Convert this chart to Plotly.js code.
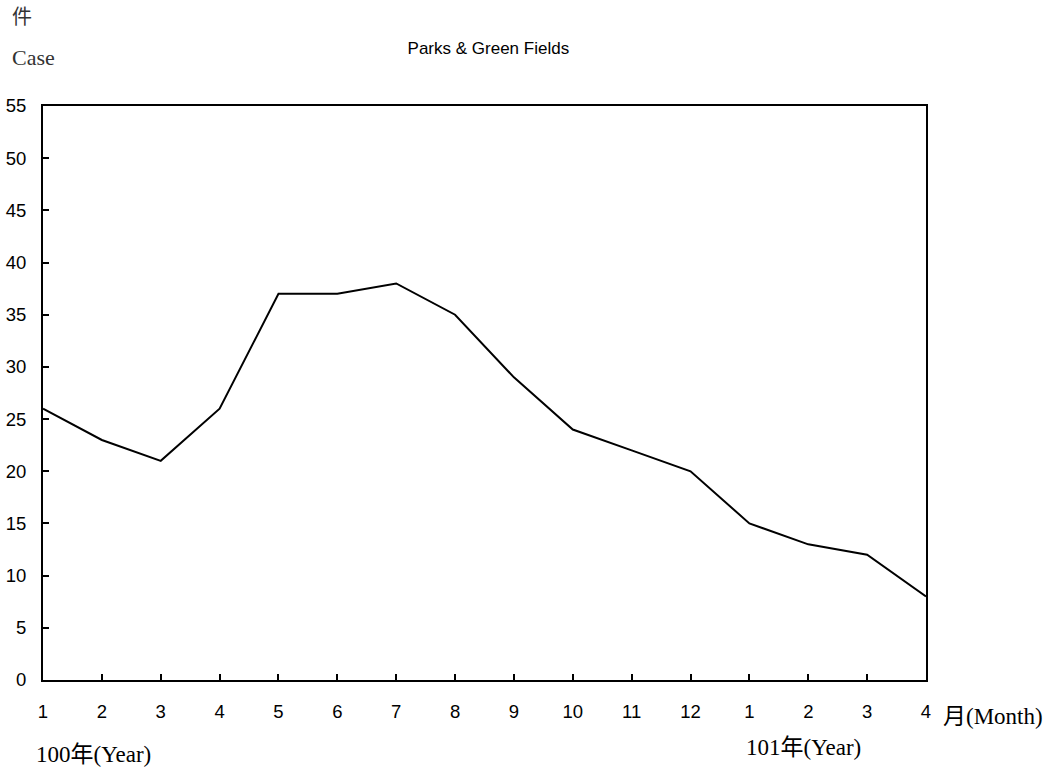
<!DOCTYPE html>
<html><head><meta charset="utf-8">
<script src="https://cdn.plot.ly/plotly-3.0.1.min.js"></script>
<style>body{margin:0;background:#fff}#chart{width:1048px;height:770px}</style>
</head><body><div id="chart"></div>
<script>
const monthLabels = ["1","2","3","4","5","6","7","8","9","10","11","12","1","2","3","4"];
const cases = [26,23,21,26,37,37,38,35,29,24,22,20,15,13,12,8];
const yTicks = [0,5,10,15,20,25,30,35,40,45,50,55];
const xIdx = monthLabels.map((_, i) => i);

const serif = '"Liberation Serif","Noto Sans CJK TC",serif';
const sans = 'Arial,"Liberation Sans",sans-serif';

const trace = {x: xIdx, y: cases, type: 'scatter', mode: 'lines',
  line: {color: '#000', width: 2}, hoverinfo: 'skip'};

const layout = {
  width: 1048, height: 770,
  margin: {l: 43, r: 122, t: 106, b: 90},
  paper_bgcolor: '#fff', plot_bgcolor: '#fff',
  showlegend: false,
  title: {text: 'Parks & Green Fields', x: 0.466, xanchor: 'center', y: 0.938, yanchor: 'middle',
    font: {family: sans, size: 17, color: '#000'}},
  xaxis: {range: [0, 15], tickvals: xIdx, ticktext: monthLabels,
    showgrid: false, zeroline: false, showline: true, linecolor: '#000', linewidth: 2,
    mirror: true, ticks: 'inside', ticklen: 6, tickwidth: 2, tickcolor: '#000',
    tickfont: {family: sans, size: 18.5, color: '#000'}, ticklabelstandoff: 14},
  yaxis: {range: [0, 55], tickvals: yTicks,
    showgrid: false, zeroline: false, showline: true, linecolor: '#000', linewidth: 2,
    mirror: true, ticks: 'inside', ticklen: 6, tickwidth: 2, tickcolor: '#000',
    tickfont: {family: sans, size: 18.5, color: '#000'}, ticklabelstandoff: 11},
  annotations: [
    {text: '件', xref: 'paper', yref: 'paper', x: 0, y: 1.155, xanchor: 'left', yanchor: 'middle',
      xshift: -33, showarrow: false, font: {family: serif, size: 20, color: '#333'}},
    {text: 'Case', xref: 'paper', yref: 'paper', x: 0, y: 1.085, xanchor: 'left', yanchor: 'middle',
      xshift: -33, showarrow: false, font: {family: serif, size: 22, color: '#333'}},
    {text: '月(Month)', xref: 'paper', yref: 'paper', x: 1.0, y: -0.063, xanchor: 'left', yanchor: 'middle',
      xshift: 15, showarrow: false, font: {family: serif, size: 23, color: '#000'}},
    {text: '100年(Year)', xref: 'paper', yref: 'paper', x: 0, y: -0.13, xanchor: 'left', yanchor: 'middle',
      xshift: -9, showarrow: false, font: {family: serif, size: 23, color: '#000'}},
    {text: '101年(Year)', xref: 'paper', yref: 'paper', x: 0.796, y: -0.117, xanchor: 'left', yanchor: 'middle',
      xshift: -2, showarrow: false, font: {family: serif, size: 23, color: '#000'}}
  ]
};
Plotly.newPlot('chart', [trace], layout, {displayModeBar: false, staticPlot: true});
</script></body></html>
